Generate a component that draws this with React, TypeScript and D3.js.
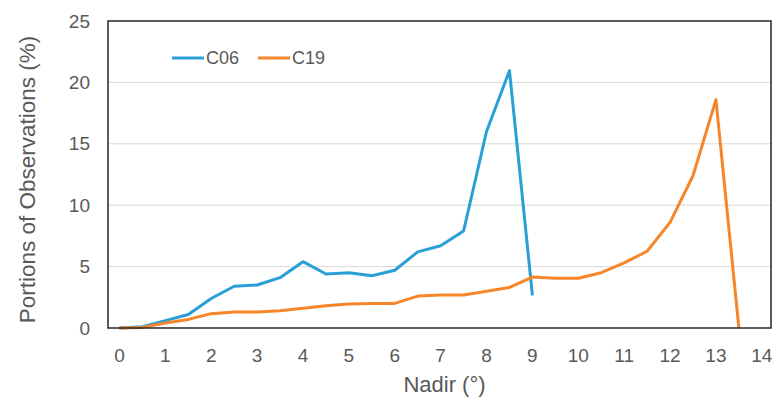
import { useEffect, useRef } from "react";
import * as d3 from "d3";

const width = 772;
const height = 400;

// nadir angle (deg), sampled every 0.5
const nadirC06 = d3.range(0, 9.01, 0.5);
const nadirC19 = d3.range(0, 13.51, 0.5);

const c06 = [
  0, 0.1, 0.6, 1.1, 2.4, 3.4, 3.5, 4.1, 5.4, 4.4, 4.5, 4.25, 4.7, 6.2, 6.7,
  7.9, 16.0, 20.95, 2.65,
];
const c19 = [
  0, 0.05, 0.4, 0.7, 1.17, 1.3, 1.3, 1.4, 1.6, 1.82, 1.95, 2.0, 2.0, 2.6,
  2.68, 2.68, 3.0, 3.3, 4.15, 4.05, 4.05, 4.5, 5.3, 6.25, 8.6, 12.4, 18.6, 0,
];

const xTicks = d3.range(0, 15);
const yTicks = [0, 5, 10, 15, 20, 25];

const series = [
  { name: "C06", x: nadirC06, y: c06, color: "#2a9fd6" },
  { name: "C19", x: nadirC19, y: c19, color: "#f7862a" },
];

const font = "'Liberation Sans', Arial, sans-serif";
const textColor = "#595959";

const App = () => {
  const ref = useRef<SVGSVGElement | null>(null);

  useEffect(() => {
    const margin = { top: 21, right: 1, bottom: 72, left: 108 };
    const svg = d3.select(ref.current);
    svg.selectAll("*").remove();

    const x = d3
      .scaleLinear()
      .domain([-0.25, 14.2])
      .range([margin.left, width - margin.right]);
    const y = d3
      .scaleLinear()
      .domain([0, 25])
      .range([height - margin.bottom, margin.top]);

    // gridlines
    svg
      .append("g")
      .selectAll("line")
      .data(yTicks.slice(1, -1))
      .join("line")
      .attr("x1", x.range()[0])
      .attr("x2", x.range()[1])
      .attr("y1", (d) => y(d))
      .attr("y2", (d) => y(d))
      .attr("stroke", "#d9d9d9")
      .attr("stroke-width", 1);

    // y tick labels
    svg
      .append("g")
      .selectAll("text")
      .data(yTicks)
      .join("text")
      .attr("x", 90)
      .attr("y", (d) => y(d))
      .attr("dy", "0.35em")
      .attr("text-anchor", "end")
      .attr("font-family", font)
      .attr("font-size", 19)
      .attr("fill", textColor)
      .text((d) => d);

    // x tick labels
    svg
      .append("g")
      .selectAll("text")
      .data(xTicks)
      .join("text")
      .attr("x", (d) => x(d))
      .attr("y", 355)
      .attr("dy", "0.35em")
      .attr("text-anchor", "middle")
      .attr("font-family", font)
      .attr("font-size", 19)
      .attr("fill", textColor)
      .text((d) => d);

    // axis titles
    svg
      .append("text")
      .attr("x", (x.range()[0] + x.range()[1]) / 2 + 5)
      .attr("y", 384)
      .attr("dy", "0.35em")
      .attr("text-anchor", "middle")
      .attr("font-family", font)
      .attr("font-size", 22)
      .attr("fill", textColor)
      .text("Nadir (°)");

    svg
      .append("text")
      .attr("transform", `translate(27,${(y(0) + y(25)) / 2 + 5}) rotate(-90)`)
      .attr("dy", "0.35em")
      .attr("text-anchor", "middle")
      .attr("font-family", font)
      .attr("font-size", 22.5)
      .attr("fill", textColor)
      .text("Portions of Observations (%)");

    // lines
    const line = d3
      .line<[number, number]>()
      .x((d) => x(d[0]))
      .y((d) => y(d[1]));

    series.forEach((s) => {
      svg
        .append("path")
        .datum(s.x.map((v, i) => [v, s.y[i]] as [number, number]))
        .attr("fill", "none")
        .attr("stroke", s.color)
        .attr("stroke-width", 3)
        .attr("stroke-linejoin", "round")
        .attr("d", line);
    });

    // plot border
    svg
      .append("rect")
      .attr("x", x.range()[0])
      .attr("y", y.range()[1])
      .attr("width", x.range()[1] - x.range()[0])
      .attr("height", y.range()[0] - y.range()[1])
      .attr("fill", "none")
      .attr("stroke", "#262626")
      .attr("stroke-width", 1.5);

    // legend
    const legend = svg
      .append("g")
      .selectAll("g")
      .data(series)
      .join("g")
      .attr("transform", (_, i) => `translate(${172 + i * 86},58)`);
    legend
      .append("line")
      .attr("x1", 0)
      .attr("x2", 32)
      .attr("stroke", (d) => d.color)
      .attr("stroke-width", 3);
    legend
      .append("text")
      .attr("x", 34)
      .attr("dy", "0.35em")
      .attr("font-family", font)
      .attr("font-size", 18)
      .attr("fill", textColor)
      .text((d) => d.name);
  }, []);

  return (
    <svg
      ref={ref}
      width={width}
      height={height}
      style={{ position: "absolute", left: 0, top: 0, background: "#fff" }}
    />
  );
};

export default App;
